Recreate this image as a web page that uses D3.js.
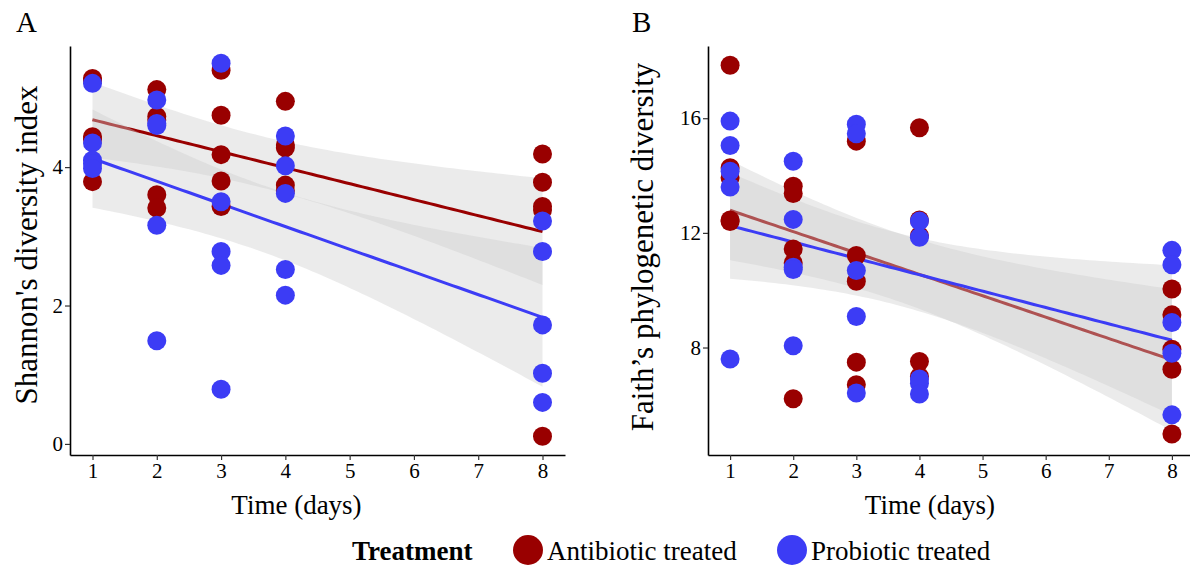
<!DOCTYPE html>
<meta charset="utf-8">
<html>
<script src="https://d3js.org/d3.v7.min.js"></script>
<style>
  body { margin: 0; background: #fff; }
  text { font-family: "Liberation Serif", "Times New Roman", serif; }
</style>
<div id="chart"></div>
<script>

// sampling days
var days = [1, 2, 3, 4, 8];

// Shannon's diversity index, one row per day (5 animals each)
var shannonAntibiotic = [
  [5.28, 5.25, 4.44, 4.40, 3.79],
  [5.12, 4.73, 4.68, 3.60, 3.41],
  [5.40, 4.75, 4.18, 3.80, 3.43],
  [4.95, 4.32, 4.28, 3.74, 3.66],
  [4.19, 3.78, 3.43, 3.38, 0.11]
];
var shannonProbiotic = [
  [5.21, 4.35, 4.10, 4.05, 3.98],
  [4.97, 4.63, 4.60, 3.16, 1.49],
  [5.50, 3.50, 2.78, 2.58, 0.79],
  [4.45, 4.02, 3.62, 2.52, 2.15],
  [3.22, 2.78, 1.72, 1.02, 0.60]
];

// Faith's phylogenetic diversity
var faithAntibiotic = [
  [17.85, 14.27, 13.92, 12.45, 12.40],
  [13.63, 13.37, 11.44, 10.95, 6.21],
  [15.20, 11.21, 10.31, 7.49, 6.70],
  [15.67, 12.45, 11.90, 7.51, 6.99],
  [10.04, 9.14, 7.94, 7.24, 4.98]
];
var faithProbiotic = [
  [15.90, 15.05, 14.15, 13.60, 7.60],
  [14.50, 12.47, 10.80, 10.72, 8.06],
  [15.79, 15.46, 10.69, 9.08, 6.41],
  [12.41, 11.85, 6.90, 6.75, 6.38],
  [11.39, 10.89, 8.87, 7.80, 5.65]
];

var treatments = ["Antibiotic treated", "Probiotic treated"];
var xTicks = [1, 2, 3, 4, 5, 6, 7, 8];
var shannonTicks = [0, 2, 4];
var faithTicks = [8, 12, 16];

var width = 1190,
    height = 570;

var colors = d3.scaleOrdinal()
  .domain(treatments)
  .range(["#990000", "#3c3cf5"]);

var svg = d3.select("#chart")
  .append("svg")
    .attr("width", width)
    .attr("height", height);

// flatten day rows into {x, y} points
function toPoints(rows) {
  var pts = [];
  rows.forEach(function(row, i) {
    row.forEach(function(v) { pts.push({x: days[i], y: v}); });
  });
  return pts;
}

// ordinary least squares fit with 95% confidence band (like geom_smooth(method="lm"))
function linearFit(pts) {
  var n = pts.length;
  var mx = d3.mean(pts, function(d) { return d.x; });
  var my = d3.mean(pts, function(d) { return d.y; });
  var sxx = d3.sum(pts, function(d) { return (d.x - mx) * (d.x - mx); });
  var sxy = d3.sum(pts, function(d) { return (d.x - mx) * (d.y - my); });
  var slope = sxy / sxx;
  var icept = my - slope * mx;
  var sse = d3.sum(pts, function(d) { var r = d.y - (icept + slope * d.x); return r * r; });
  var s = Math.sqrt(sse / (n - 2));
  var t = 2.0687; // t quantile, 0.975, df = 23
  var xs = d3.range(0, 81).map(function(i) { return 1 + 7 * i / 80; });
  return xs.map(function(x) {
    var fit = icept + slope * x;
    var se = s * Math.sqrt(1 / n + (x - mx) * (x - mx) / sxx);
    return {x: x, fit: fit, lo: fit - t * se, hi: fit + t * se};
  });
}

function drawPanel(cfg) {
  var x = d3.scaleLinear().domain([0.65, 8.35]).range([cfg.left, cfg.right]);
  var y = d3.scaleLinear().domain(cfg.yDomain).range([455, 46]);

  var g = svg.append("g");

  var groups = [
    {key: treatments[0], pts: toPoints(cfg.antibiotic)},
    {key: treatments[1], pts: toPoints(cfg.probiotic)}
  ];

  // ribbons and fitted lines, group by group
  groups.forEach(function(grp) {
    var fit = linearFit(grp.pts);
    g.append("path")
      .datum(fit)
      .attr("fill", "#cccccc")
      .attr("fill-opacity", 0.4)
      .attr("d", d3.area()
        .x(function(d) { return x(d.x); })
        .y0(function(d) { return y(d.lo); })
        .y1(function(d) { return y(d.hi); }));
    g.append("path")
      .datum(fit)
      .attr("fill", "none")
      .attr("stroke", colors(grp.key))
      .attr("stroke-width", 3)
      .attr("d", d3.line()
        .x(function(d) { return x(d.x); })
        .y(function(d) { return y(d.fit); }));
  });

  // points on top
  groups.forEach(function(grp) {
    g.selectAll(null)
      .data(grp.pts)
      .enter().append("circle")
        .attr("cx", function(d) { return x(d.x); })
        .attr("cy", function(d) { return y(d.y); })
        .attr("r", 9.5)
        .attr("fill", colors(grp.key));
  });

  // axes
  var xAxis = g.append("g")
    .attr("transform", "translate(0,455)")
    .call(d3.axisBottom(x).tickValues(xTicks).tickFormat(d3.format("d"))
      .tickSize(5).tickSizeOuter(0).tickPadding(3));
  var yAxis = g.append("g")
    .attr("transform", "translate(" + cfg.left + ",0)")
    .call(d3.axisLeft(y).tickValues(cfg.yTicks).tickFormat(d3.format("d"))
      .tickSize(5).tickSizeOuter(0).tickPadding(2));

  [xAxis, yAxis].forEach(function(a) {
    a.attr("font-family", "Liberation Serif").attr("font-size", 21);
    a.select(".domain").attr("stroke", "#000").attr("stroke-width", 1.6);
    a.selectAll(".tick line").attr("stroke", "#333").attr("stroke-width", 1.2);
    a.selectAll(".tick text").attr("fill", "#000");
  });

  // axis titles
  g.append("text")
    .attr("x", (cfg.left + cfg.right) / 2 - 21)
    .attr("y", 514)
    .attr("text-anchor", "middle")
    .style("font-size", "27px")
    .text("Time (days)");

  g.append("text")
    .attr("transform", "translate(" + cfg.titleX + "," + cfg.titleY + ") rotate(-90)")
    .attr("text-anchor", "middle")
    .style("font-size", "31px")
    .text(cfg.title);

  // panel letter
  g.append("text")
    .attr("x", cfg.letterX)
    .attr("y", 32)
    .style("font-size", "29px")
    .text(cfg.letter);
}

drawPanel({
  left: 70, right: 565,
  yDomain: [-0.16, 5.75], yTicks: shannonTicks,
  antibiotic: shannonAntibiotic, probiotic: shannonProbiotic,
  title: "Shannon's diversity index", titleX: 37, titleY: 245,
  letter: "A", letterX: 16
});

drawPanel({
  left: 708, right: 1194,
  yDomain: [4.25, 18.52], yTicks: faithTicks,
  antibiotic: faithAntibiotic, probiotic: faithProbiotic,
  title: "Faith\u2019s phylogenetic diversity", titleX: 653, titleY: 247,
  letter: "B", letterX: 632
});

// legend
var legend = svg.append("g");

legend.append("text")
  .attr("x", 352)
  .attr("y", 560)
  .style("font-size", "27px")
  .style("font-weight", "bold")
  .text("Treatment");

var items = legend.selectAll(".item")
  .data(treatments)
  .enter().append("g")
    .attr("class", "item")
    .attr("transform", function(d, i) { return "translate(" + [528, 792][i] + ",550)"; });

items.append("circle")
  .attr("r", 15)
  .attr("fill", function(d) { return colors(d); });

items.append("text")
  .attr("x", 19)
  .attr("y", 10)
  .style("font-size", "27px")
  .text(function(d) { return d; });

</script>
</html>
